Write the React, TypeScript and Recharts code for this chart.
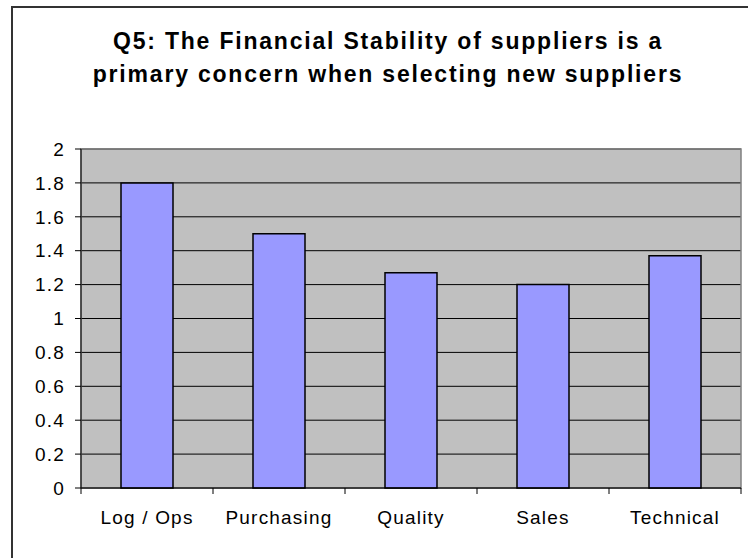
import {
  BarChart,
  Bar,
  XAxis,
  YAxis,
  CartesianGrid,
  ReferenceArea,
} from 'recharts'

const categories = ['Log / Ops', 'Purchasing', 'Quality', 'Sales', 'Technical']
const scores = [1.8, 1.5, 1.27, 1.2, 1.37]
const yTicks = [0, 0.2, 0.4, 0.6, 0.8, 1, 1.2, 1.4, 1.6, 1.8, 2]
const titleLines = [
  'Q5: The Financial Stability of suppliers is a',
  'primary concern when selecting new suppliers',
]

const data = categories.map((name, i) => ({ name, score: scores[i] }))

const FONT = '"Liberation Sans", Arial, sans-serif'
const tickText = { fill: '#000', fontSize: 19, fontFamily: FONT, letterSpacing: 1.2 }
const LABEL_GAP = 23

interface TickProps {
  x?: number
  y?: number
  width?: number
  index?: number
  visibleTicksCount?: number
  payload?: { value: string }
}

// category label, plus Excel-style tick marks on the band edges
function CategoryTick(props: TickProps) {
  const { x = 0, y = 0, width = 0, index = 0, visibleTicksCount = 1, payload } = props
  const band = width / visibleTicksCount
  const axisY = y - LABEL_GAP
  const last = index === visibleTicksCount - 1
  return (
    <g>
      <line x1={x - band / 2} x2={x - band / 2} y1={axisY} y2={axisY + 6} stroke="#000" />
      {last && <line x1={x + band / 2} x2={x + band / 2} y1={axisY} y2={axisY + 6} stroke="#000" />}
      <text x={x} y={y} dy="0.71em" textAnchor="middle" {...tickText}>
        {payload?.value}
      </text>
    </g>
  )
}

export default function App() {
  return (
    <div
      style={{
        position: 'absolute',
        left: 0,
        top: 0,
        width: 748,
        height: 558,
        overflow: 'hidden',
        background: '#fff',
      }}
    >
      <BarChart
        width={748}
        height={558}
        data={data}
        margin={{ top: 149, right: 7, left: 0, bottom: 0 }}
      >
        <CartesianGrid vertical={false} stroke="#000" fill="#C0C0C0" fillOpacity={1} />
        <ReferenceArea
          y1={0}
          y2={2}
          fill="none"
          stroke="#808080"
          strokeWidth={1.5}
          ifOverflow="visible"
        />
        <XAxis
          dataKey="name"
          height={70}
          axisLine={{ stroke: '#000' }}
          tickLine={false}
          tickSize={0}
          tickMargin={LABEL_GAP}
          tick={<CategoryTick />}
          interval={0}
        />
        <YAxis
          width={81}
          domain={[0, 2]}
          ticks={yTicks}
          tickSize={6}
          tickMargin={10}
          tick={tickText}
          axisLine={{ stroke: '#000' }}
          tickLine={{ stroke: '#000' }}
          interval={0}
        />
        <Bar
          dataKey="score"
          barSize={52}
          fill="#9999FF"
          stroke="#000"
          strokeWidth={1.5}
          isAnimationActive={false}
        />
      </BarChart>
      <svg
        width={748}
        height={558}
        style={{ position: 'absolute', left: 0, top: 0, pointerEvents: 'none' }}
      >
        <rect x={12} y={7} width={800} height={600} fill="none" stroke="#333" strokeWidth={2} />
        {titleLines.map((line, i) => (
          <text
            key={i}
            x={388}
            y={49 + i * 33}
            textAnchor="middle"
            fontFamily={FONT}
            fontWeight="bold"
            fontSize={23}
            letterSpacing={1.8}
            fill="#000"
          >
            {line}
          </text>
        ))}
      </svg>
    </div>
  )
}
